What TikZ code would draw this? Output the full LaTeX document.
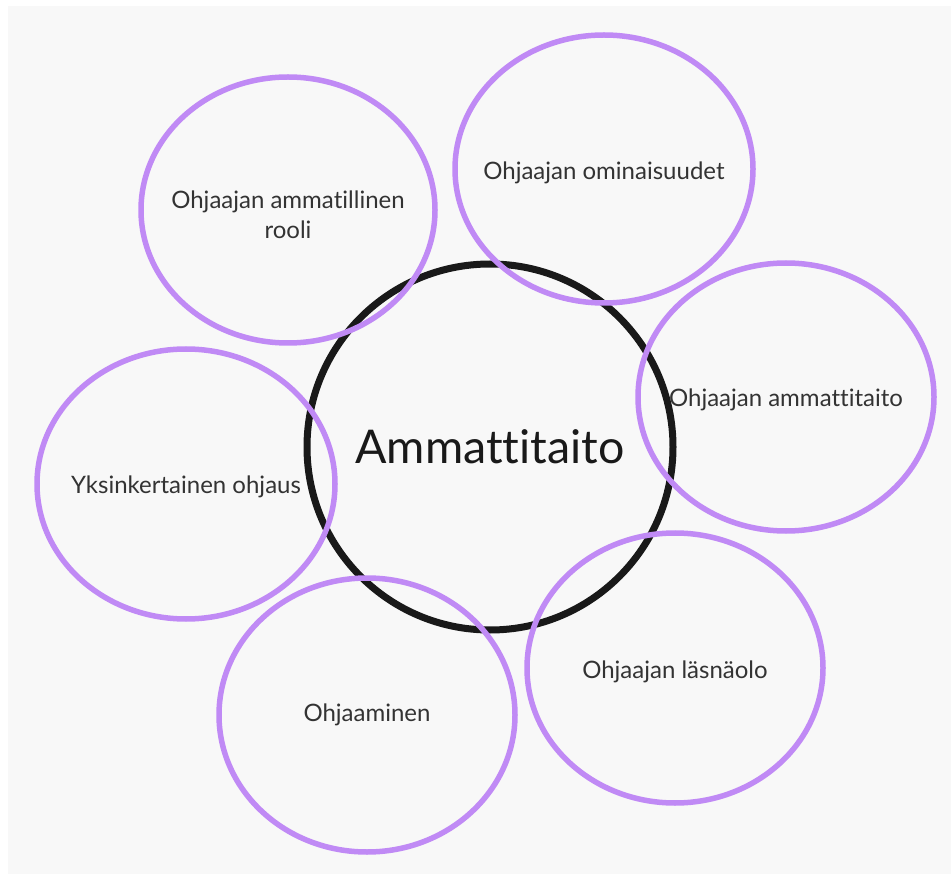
\documentclass[tikz,border=0pt]{standalone}
\usepackage{fontspec}
\setmainfont[Ligatures=NoCommon]{Lato}
\usetikzlibrary{shapes.geometric}
\definecolor{pagebg}{HTML}{F8F8F8}
\definecolor{lilac}{HTML}{C08AF5}
\definecolor{labelgray}{HTML}{333333}
\begin{document}
\begin{tikzpicture}[x=1pt,y=-1pt,
  topic/.style={ellipse, draw=lilac, line width=5.5pt, inner sep=0pt},
  topictext/.style={text=labelgray, font=\fontsize{24}{30}\selectfont,
    align=center, inner sep=0pt},
  core/.style={circle, draw=black!90, line width=7pt, inner sep=0pt,
    minimum size=366pt, text=black!90, font=\fontsize{46.5}{52}\selectfont}]
  % page and backdrop
  \useasboundingbox (0,0) rectangle (951,874);
  \fill[white] (0,0) rectangle (951,874);
  \fill[pagebg] (8,6) rectangle (951,874);
  % central concept
  \node[core] (center) at (490,447) {Ammattitaito};
  % surrounding topic rings
  \node[topic, minimum width=294pt, minimum height=266pt] (rooli) at (288,210) {};
  \node[topic, minimum width=298pt, minimum height=268pt] (ominaisuudet) at (604,169) {};
  \node[topic, minimum width=296pt, minimum height=268pt] (ammattitaito) at (786,397) {};
  \node[topic, minimum width=298pt, minimum height=270pt] (yksinkertainen) at (186,484) {};
  \node[topic, minimum width=296pt, minimum height=274pt] (ohjaaminen) at (367,715) {};
  \node[topic, minimum width=296pt, minimum height=270pt] (lasnaolo) at (675,668) {};
  % topic labels
  \node[topictext] (rooli-t) at ([yshift=-5pt]rooli.center) {Ohjaajan ammatillinen\\rooli};
  \node[topictext] (ominaisuudet-t) at ([yshift=-4pt]ominaisuudet.center) {Ohjaajan ominaisuudet};
  \node[topictext] (ammattitaito-t) at ([yshift=-3pt]ammattitaito.center) {Ohjaajan ammattitaito};
  \node[topictext] (yksinkertainen-t) at ([yshift=-3pt]yksinkertainen.center) {Yksinkertainen ohjaus};
  \node[topictext] (ohjaaminen-t) at (ohjaaminen.center) {Ohjaaminen};
  \node[topictext] (lasnaolo-t) at ([yshift=-4pt]lasnaolo.center) {Ohjaajan läsnäolo};
\end{tikzpicture}
\end{document}
